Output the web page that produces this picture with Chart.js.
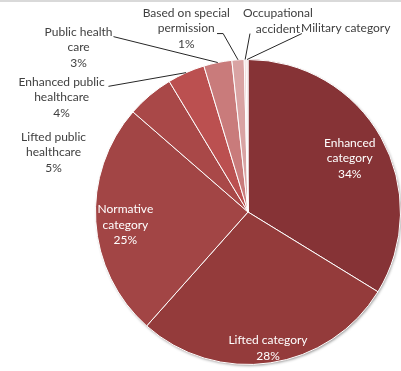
<!DOCTYPE html>
<html><head><meta charset="utf-8">
<script src="https://cdn.jsdelivr.net/npm/chart.js@4/dist/chart.umd.min.js"></script>
<style>
html,body{margin:0;padding:0;background:#fff;overflow:hidden}
#wrap{position:relative;width:401px;height:371px}
#topband{position:absolute;left:0;top:0;width:401px;height:2px;background:#d9d9d9}
</style></head><body>
<div id="wrap"><canvas id="c" width="401" height="371"></canvas><div id="topband"></div></div>
<script>
// ---- data ----
const categories = ["Enhanced category","Lifted category","Normative category","Lifted public healthcare","Enhanced public healthcare","Public health care","Based on special permission","Occupational accident","Military category"];
const shares = [34, 28, 25, 5, 4, 3, 1.3, 0.2, 0.2];
const labelLines = [["Enhanced","category"],["Lifted category"],["Normative","category"],["Lifted public","healthcare"],["Enhanced public","healthcare"],["Public health","care"],["Based on special","permission"],["Occupational","accident"],["Military category"]];

// ---- style / layout (not data) ----
const sliceColors = ["#863336","#943b3b","#a24545","#a94848","#bb5050","#c97b7b","#d9a3a3","#e8c6c6","#f0d9d9"];
const insideLabel = [true,true,true,false,false,false,false,false,false];
// label block centres relative to pie centre, in units of the radius
const labelPos = [[0.667,-0.353],[0.131,0.892],[-0.804,0.085],[-1.275,-0.392],[-1.222,-0.752],[-1.111,-1.078],[-0.405,-1.203],[0.196,-1.252],[0.641,-1.203]];
// leader line start points (radius units), null = no leader
const leaderStart = [null,null,null,null,[[-0.915,-0.824]],[[-0.882,-1.150]],[[-0.203,-1.170],[-0.163,-1.170]],[[0.013,-1.170]],[[0.353,-1.170]]];

const FONT = "12px Lato, 'Open Sans', sans-serif";
const LINE_H = 15.5;

const shadowPlugin = {
  id:'shadow',
  beforeDatasetsDraw(chart){
    const a = chart.getDatasetMeta(0).data[0];
    if(!a) return;
    const ctx = chart.ctx;
    ctx.save();
    ctx.shadowColor='rgba(0,0,0,0.45)';
    ctx.shadowBlur=3; ctx.shadowOffsetX=1; ctx.shadowOffsetY=1.5;
    ctx.fillStyle='#bbb';
    ctx.beginPath(); ctx.arc(a.x,a.y,a.outerRadius-0.5,0,Math.PI*2); ctx.fill();
    ctx.restore();
  }
};

const labelPlugin = {
  id:'labels',
  afterDatasetsDraw(chart){
    const meta = chart.getDatasetMeta(0);
    const ctx = chart.ctx;
    const total = shares.reduce((s,v)=>s+v,0);
    ctx.save();
    ctx.font = FONT;
    ctx.textAlign='center';
    ctx.textBaseline='middle';
    meta.data.forEach((arc,i)=>{
      const cx=arc.x, cy=arc.y, R=arc.outerRadius;
      const pct = Math.round(shares[i]/total*100);
      const lines = labelLines[i].slice();
      if(pct>0) lines.push(pct+'%');
      const px = cx + labelPos[i][0]*R, py = cy + labelPos[i][1]*R;
      ctx.fillStyle = insideLabel[i] ? '#ffffff' : '#404040';
      const y0 = py - (lines.length-1)*LINE_H/2;
      lines.forEach((t,k)=>ctx.fillText(t, px, y0 + k*LINE_H));
      if(leaderStart[i]){
        const mid=(arc.startAngle+arc.endAngle)/2;
        ctx.strokeStyle='#262626'; ctx.lineWidth=1;
        ctx.beginPath();
        leaderStart[i].forEach((p,k)=>{
          const x=cx+p[0]*R, y=cy+p[1]*R;
          if(k===0) ctx.moveTo(x,y); else ctx.lineTo(x,y);
        });
        ctx.lineTo(cx+Math.cos(mid)*R, cy+Math.sin(mid)*R);
        ctx.stroke();
      }
    });
    ctx.restore();
  }
};

new Chart(document.getElementById('c'),{
  type:'pie',
  data:{labels:categories,datasets:[{data:shares,backgroundColor:sliceColors,borderColor:'#ffffff',borderWidth:1}]},
  options:{
    responsive:false, animation:false, devicePixelRatio:1,
    layout:{padding:{left:95,right:0,top:59,bottom:6}},
    plugins:{legend:{display:false},tooltip:{enabled:false}}
  },
  plugins:[shadowPlugin,labelPlugin]
});
</script>
</body></html>
